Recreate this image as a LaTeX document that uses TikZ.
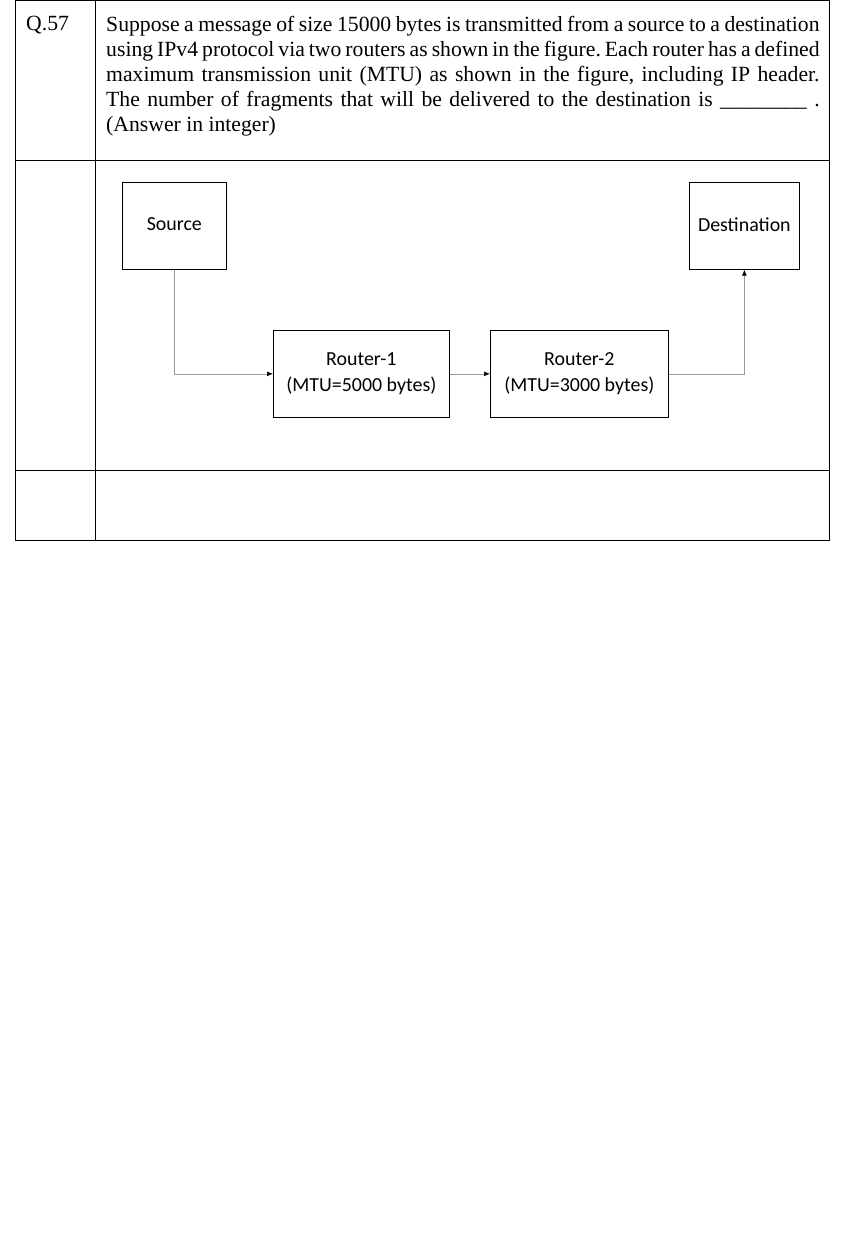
\documentclass[tikz,border=0pt]{standalone}
\usepackage{fontspec}
\setmainfont{Liberation Serif}
\newfontfamily\boxfont{Carlito}
\usetikzlibrary{arrows.meta}
\begin{document}
\begin{tikzpicture}[x=0.03cm,y=-0.03cm,
  blk/.style={draw,line width=0.6pt,minimum height=2.61cm,font=\boxfont\fontsize{17}{22}\selectfont,align=center},
  top label/.style={label={[font=\boxfont\fontsize{17}{22}\selectfont,anchor=north,yshift=-0.95cm]north:#1}},
  link/.style={draw=gray!80,line width=0.5pt,-{Latex[length=5pt,width=4pt,black]}}]
  \useasboundingbox (0,0) rectangle (845,1234);
  % table
  \draw[line width=0.6pt] (15,0) rectangle (829,540);
  \draw[line width=0.6pt] (95,0) -- (95,540);
  \draw[line width=0.6pt] (15,160) -- (829,160);
  \draw[line width=0.6pt] (15,470) -- (829,470);
  \node (qno) [anchor=north west,inner sep=0pt,font=\fontsize{18.5}{21}\selectfont] at (26,16) {Q.57};
  \node (qtext) [anchor=north west,inner sep=0pt,text width=21.4cm,align=justify,
    font=\fontsize{18.5}{21.3}\selectfont] at (106,16)
    {\frenchspacing\hyphenpenalty=10000\relax
     Suppose a message of size 15000 bytes is transmitted from a source to a destination\linebreak
     using IPv4 protocol via two routers as shown in the figure. Each router has a defined\linebreak
     maximum transmission unit (MTU) as shown in the figure, including IP header.\linebreak
     The number of fragments that will be delivered to the destination is \_\_\_\_\_\_\_\_ .\linebreak
     (Answer in integer)};

  % blocks
  \node (src)  [blk,minimum width=3.12cm,anchor=north west,top label=Source] at (122,182) {};
  \node (dst)  [blk,minimum width=3.3cm,anchor=north west,top label=Destination] at (689,182) {};
  \node (rt1)  [blk,minimum width=5.28cm,anchor=north west] at (273,330) {Router-1\\(MTU=5000 bytes)};
  \node (rt2)  [blk,minimum width=5.34cm,anchor=north west] at (490,330) {Router-2\\(MTU=3000 bytes)};

  \draw[link] (src.south) |- (rt1.west);
  \draw[link] (rt1.east) -- (rt2.west);
  \draw[link] (rt2.east) -| (dst.south);
\end{tikzpicture}
\end{document}
